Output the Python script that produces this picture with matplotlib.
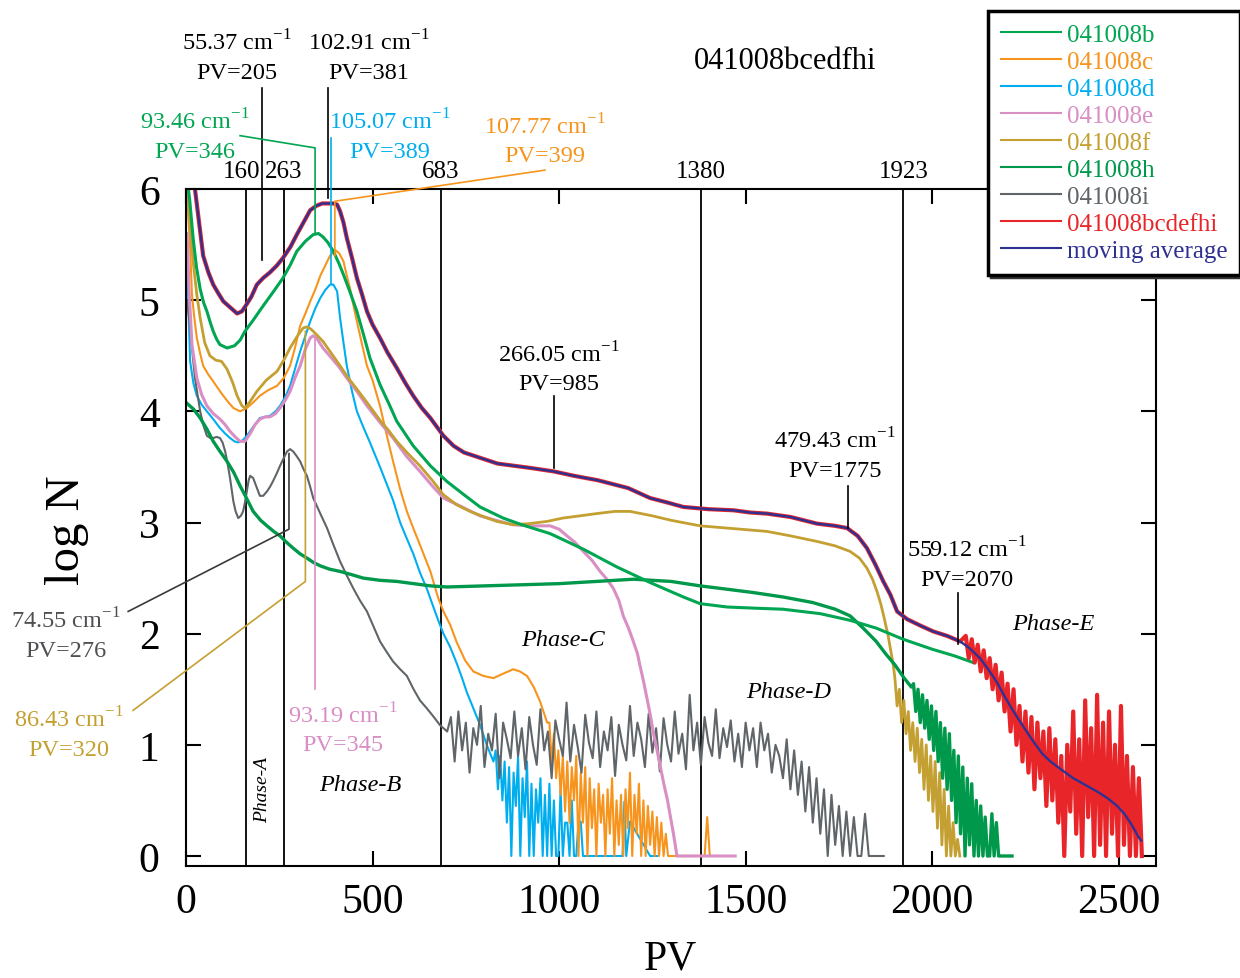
import numpy as np
import matplotlib.pyplot as plt

plt.rcParams['font.family'] = ['Liberation Serif', 'DejaVu Serif']
plt.rcParams['mathtext.fontset'] = 'custom'
plt.rcParams['mathtext.rm'] = 'Liberation Serif'

# ---- values: PV vs log N ----

# moving average of 041008bcdefhi
ma_pv = [18, 24, 35, 46, 60, 73, 87, 100, 120, 137, 150, 160, 175, 190, 207, 225, 243, 260, 280, 297,
         315, 333, 350, 365, 380, 395, 405, 413, 422, 431, 445, 458, 472, 485, 500, 520, 540, 565, 587, 609,
         632, 655, 690, 717, 745, 790, 835, 880, 925, 985, 1040, 1104, 1150, 1185, 1244, 1290, 1333, 1400, 1467, 1512,
         1557, 1620, 1691, 1740, 1772, 1800, 1825, 1848, 1869, 1888, 1906, 1933, 1970, 2003, 2040, 2075, 2100, 2128, 2150, 2174,
         2195, 2218, 2245, 2271, 2295, 2317, 2345, 2378, 2410, 2442, 2470, 2496, 2515, 2531, 2545, 2553, 2560]
ma_logn = [6.1, 6.0, 5.7, 5.4, 5.25, 5.14, 5.06, 4.99, 4.93, 4.88, 4.9, 4.95, 5.03, 5.14, 5.2, 5.25, 5.31, 5.38, 5.48, 5.59,
           5.7, 5.81, 5.85, 5.87, 5.87, 5.87, 5.86, 5.8, 5.7, 5.56, 5.38, 5.2, 5.05, 4.9, 4.78, 4.66, 4.53, 4.39, 4.26, 4.14,
           4.03, 3.94, 3.78, 3.69, 3.63, 3.58, 3.53, 3.51, 3.49, 3.46, 3.42, 3.38, 3.34, 3.31, 3.22, 3.18, 3.14, 3.12, 3.11, 3.09,
           3.08, 3.05, 2.99, 2.97, 2.95, 2.88, 2.77, 2.62, 2.47, 2.35, 2.2, 2.13, 2.07, 2.02, 1.98, 1.93, 1.87, 1.78, 1.68, 1.56,
           1.43, 1.3, 1.16, 1.03, 0.92, 0.85, 0.78, 0.7, 0.64, 0.58, 0.52, 0.45, 0.38, 0.3, 0.22, 0.17, 0.14]

# raw 041008bcdefhi tail (sampled every 8 PV from 2090)
red_tail = [1.98, 1.78, 1.95, 1.74, 1.9, 1.66, 1.85, 1.6, 1.78, 1.5,
            1.72, 1.4, 1.65, 1.3, 1.55, 1.12, 1.5, 1.0, 1.35, 0.85,
            1.3, 0.75, 1.25, 0.6, 1.2, 0.7, 1.12, 0.45, 1.15, 0.5,
            1.05, 0.3, 0.9, 0.0, 1.0, 0.4, 1.3, 0.2, 1.05, 0.0,
            1.4, 0.35, 1.15, 0.0, 1.45, 0.1, 1.2, 0.0, 1.3, 0.2,
            1.0, 0.0, 1.35, 0.1, 0.9, 0.0, 0.8, 0.0, 0.7, 0.0]

# 041008b
pv_b = [3, 10, 19, 28, 38, 47, 56, 65, 73, 82, 91, 110, 130, 145, 158, 180, 207, 235, 260, 280,
        297, 320, 341, 355, 367, 380, 395, 410, 422, 440, 458, 475, 493, 520, 545, 565, 587, 609, 632, 655,
        699, 745, 788, 850, 900, 976, 1065, 1155, 1244, 1333, 1378, 1450, 1520, 1600, 1700, 1780, 1850, 1922, 2000, 2060, 2110]
logn_b = [6.1, 5.9, 5.56, 5.3, 5.1, 4.98, 4.9, 4.8, 4.72, 4.65, 4.6, 4.57, 4.59, 4.64, 4.72, 4.82, 4.95, 5.08, 5.2, 5.32,
          5.44, 5.53, 5.59, 5.6, 5.57, 5.52, 5.44, 5.33, 5.23, 5.07, 4.9, 4.7, 4.48, 4.24, 4.06, 3.91, 3.8, 3.69, 3.6, 3.51,
          3.37, 3.25, 3.14, 3.04, 2.98, 2.9, 2.76, 2.6, 2.46, 2.33, 2.27, 2.24, 2.23, 2.22, 2.18, 2.12, 2.05, 1.95, 1.86, 1.8, 1.74]

# 041008c
pv_c = [2, 5, 10, 16, 22, 29, 38, 46, 60, 73, 87, 100, 114, 127, 145, 163, 180, 198, 220, 244,
        262, 279, 292, 306, 320, 333, 347, 360, 373, 386, 400, 411, 422, 431, 440, 449, 458, 472, 485, 500,
        520, 537, 555, 574, 592, 609, 627, 641, 655, 676, 690, 708, 726, 748, 770, 797, 824, 850, 877, 895,
        914, 932, 949, 958, 968]
logn_c = [6.0, 5.8, 5.56, 5.05, 4.85, 4.66, 4.52, 4.41, 4.33, 4.27, 4.2, 4.14, 4.08, 4.03, 4.0, 4.03, 4.08, 4.14, 4.19, 4.23,
          4.3, 4.41, 4.57, 4.77, 4.88, 4.99, 5.1, 5.22, 5.31, 5.4, 5.45, 5.42, 5.35, 5.22, 5.1, 4.95, 4.81, 4.6, 4.41, 4.28,
          4.05, 3.8, 3.55, 3.3, 3.1, 2.95, 2.8, 2.68, 2.56, 2.32, 2.2, 2.08, 1.92, 1.76, 1.66, 1.62, 1.6, 1.64, 1.68, 1.66,
          1.62, 1.52, 1.39, 1.3, 1.2]
# noisy tail, every 6 PV from 974
orange_tail = [1.2, 0.85, 1.1, 0.7, 0.95, 0.55, 0.9, 0.4, 0.85, 0.3,
               0.8, 0.5, 0.9, 0.0, 0.75, 0.3, 0.8, 0.0, 0.7, 0.25,
               0.6, 0.0, 0.65, 0.3, 0.55, 0.0, 0.6, 0.2, 0.7, 0.0,
               0.5, 0.1, 0.55, 0.0, 0.6, 0.25, 0.75, 0.0, 0.55, 0.2,
               0.65, 0.0, 0.5, 0.0, 0.45, 0.1, 0.4, 0.0, 0.35, 0.0,
               0.3, 0.0, 0.2, 0.0]
orange_end_pv = [1300, 1390, 1397, 1404, 1415]
orange_end = [0.0, 0.0, 0.35, 0.0, 0.0]

# 041008d
pv_d = [2, 6, 11, 20, 29, 42, 56, 73, 91, 105, 118, 130, 140, 152, 163, 180, 198, 212, 225, 240,
        252, 266, 279, 292, 306, 320, 333, 347, 360, 373, 386, 395, 405, 413, 422, 431, 445, 458, 475, 493,
        520, 555, 574, 590, 609, 627, 646, 662, 676, 690, 708, 726, 740, 753, 770, 788, 806, 824]
logn_d = [5.5, 5.0, 4.45, 4.25, 4.14, 4.06, 4.0, 3.93, 3.85, 3.8, 3.76, 3.73, 3.72, 3.74, 3.78, 3.86, 3.94, 3.95, 3.96, 4.0,
          4.05, 4.13, 4.23, 4.38, 4.54, 4.68, 4.81, 4.93, 5.02, 5.09, 5.14, 5.14, 5.08, 4.84, 4.62, 4.41, 4.18, 4.0, 3.86, 3.72,
          3.5, 3.2, 3.0, 2.87, 2.72, 2.55, 2.4, 2.25, 2.12, 2.0, 1.88, 1.73, 1.6, 1.47, 1.33, 1.18, 1.0, 0.85]
# noisy tail, every 6 PV from 830
blue_tail = [0.95, 0.6, 0.9, 0.5, 0.85, 0.3, 0.8, 0.0, 0.75, 0.45,
             0.9, 0.0, 0.7, 0.35, 0.85, 0.0, 0.65, 0.0, 0.6, 0.3,
             0.7, 0.0, 0.55, 0.0, 0.65, 0.0, 0.5, 0.0, 0.0, 0.6,
             0.0, 0.3, 0.3, 0.0, 0.5, 0.0, 0.0, 0.31, 0.31, 0.0]
blue_end_pv = [1070, 1170, 1175, 1180, 1190, 1244, 1263]
blue_end = [0.0, 0.0, 0.49, 0.0, 0.31, 0.0, 0.0]

# 041008e
pv_e = [3, 8, 16, 29, 42, 56, 73, 91, 105, 118, 132, 145, 158, 172, 185, 198, 212, 225, 240, 252,
        266, 279, 292, 306, 320, 333, 341, 350, 367, 390, 410, 431, 458, 485, 520, 555, 590, 627, 660, 690,
        740, 788, 830, 877, 920, 976, 1000, 1021, 1043, 1065, 1088, 1110, 1128, 1145, 1160, 1172, 1186, 1199, 1210, 1217,
        1227, 1236, 1245, 1252, 1262, 1271, 1280, 1290, 1298, 1306, 1316, 1400, 1472]
logn_e = [5.6, 5.1, 4.6, 4.3, 4.15, 4.05, 3.98, 3.93, 3.88, 3.82, 3.77, 3.73, 3.73, 3.8, 3.88, 3.93, 3.95, 3.95, 3.98, 4.03,
          4.1, 4.18, 4.3, 4.41, 4.56, 4.66, 4.68, 4.66, 4.57, 4.48, 4.4, 4.3, 4.18, 4.05, 3.9, 3.76, 3.6, 3.46, 3.33, 3.22,
          3.14, 3.06, 3.02, 2.98, 2.97, 2.97, 2.94, 2.88, 2.82, 2.74, 2.66, 2.56, 2.49, 2.41, 2.3, 2.16, 2.05, 1.93, 1.82, 1.71,
          1.56, 1.41, 1.26, 1.12, 0.96, 0.81, 0.66, 0.51, 0.36, 0.21, 0.0, 0.0, 0.0]

# 041008f
pv_f = [3, 10, 19, 29, 38, 50, 64, 80, 95, 110, 125, 137, 150, 158, 170, 190, 215, 244, 262, 279,
        297, 314, 324, 335, 350, 367, 390, 413, 435, 458, 485, 520, 545, 565, 595, 627, 660, 690, 725, 761,
        800, 833, 877, 920, 968, 1010, 1056, 1100, 1150, 1190, 1250, 1300, 1378, 1450, 1557, 1620, 1691, 1740, 1780, 1805,
        1825, 1840, 1852, 1862, 1870, 1882, 1896]
logn_f = [6.0, 5.7, 5.35, 5.05, 4.84, 4.62, 4.5, 4.46, 4.45, 4.38, 4.26, 4.14, 4.05, 4.03, 4.08, 4.18, 4.28, 4.36, 4.46, 4.57,
          4.67, 4.75, 4.76, 4.74, 4.69, 4.63, 4.52, 4.41, 4.3, 4.2, 4.08, 3.92, 3.82, 3.73, 3.62, 3.51, 3.38, 3.25, 3.16, 3.1,
          3.05, 3.01, 2.98, 2.99, 3.01, 3.04, 3.06, 3.08, 3.1, 3.1, 3.06, 3.02, 2.97, 2.95, 2.92, 2.88, 2.83, 2.79, 2.74, 2.68,
          2.59, 2.49, 2.38, 2.27, 2.16, 1.98, 1.71]
# noisy tail, every 6 PV from 1900
olive_tail = [1.6, 1.35, 1.5, 1.2, 1.4, 1.1, 1.3, 0.95, 1.2, 0.85,
              1.15, 0.75, 1.05, 0.6, 1.0, 0.5, 0.9, 0.4, 0.85, 0.25,
              0.75, 0.1, 0.6, 0.0, 0.45, 0.0, 0.3, 0.0, 0.15, 0.0]

# 041008h
pv_h = [0, 20, 38, 56, 73, 91, 110, 128, 145, 162, 180, 200, 217, 235, 252, 270, 287, 305, 324, 342,
        360, 385, 413, 445, 475, 520, 565, 610, 655, 700, 800, 900, 1000, 1100, 1200, 1300, 1378, 1450, 1520, 1600,
        1680, 1740, 1780, 1815, 1850, 1875, 1900, 1925, 1944]
logn_h = [4.08, 4.02, 3.94, 3.84, 3.73, 3.64, 3.55, 3.45, 3.33, 3.22, 3.1, 3.02, 2.97, 2.92, 2.88, 2.82, 2.77, 2.72, 2.68, 2.64,
          2.61, 2.58, 2.56, 2.53, 2.5, 2.48, 2.47, 2.45, 2.43, 2.42, 2.43, 2.44, 2.45, 2.47, 2.49, 2.47, 2.43, 2.4, 2.37, 2.33,
          2.28, 2.22, 2.16, 2.05, 1.93, 1.82, 1.72, 1.6, 1.52]
# noisy tail, every 6 PV from 1950
green_h_tail = [1.55, 1.3, 1.5, 1.2, 1.45, 1.15, 1.4, 1.05, 1.35, 0.95,
                1.3, 0.85, 1.2, 0.7, 1.15, 0.6, 1.1, 0.5, 0.95, 0.3,
                0.9, 0.2, 0.8, 0.0, 0.7, 0.1, 0.65, 0.0, 0.5, 0.0,
                0.45, 0.0, 0.35, 0.0, 0.0, 0.38, 0.0, 0.3, 0.0, 0.0,
                0.0, 0.0, 0.0, 0.0, 0.0]

# 041008i
pv_i = [2, 10, 18, 24, 31, 38, 46, 56, 65, 73, 82, 91, 98, 105, 112, 118, 123, 127, 133, 140,
        147, 153, 158, 163, 168, 172, 176, 180, 189, 198, 207, 217, 225, 233, 243, 252, 262, 271, 279, 287,
        296, 306, 315, 324, 333, 341, 360, 378, 395, 413, 430, 448, 466, 485, 502, 520, 537, 555, 574, 592,
        610, 627, 645, 662, 680, 700]
logn_i = [5.0, 4.8, 4.5, 4.3, 4.15, 4.0, 3.88, 3.78, 3.76, 3.76, 3.77, 3.76, 3.72, 3.64, 3.52, 3.4, 3.28, 3.19, 3.1, 3.04,
          3.06, 3.1, 3.18, 3.28, 3.38, 3.42, 3.41, 3.4, 3.32, 3.24, 3.24, 3.28, 3.32, 3.37, 3.44, 3.51, 3.58, 3.64, 3.66, 3.64,
          3.6, 3.55, 3.48, 3.42, 3.32, 3.22, 3.08, 2.95, 2.8, 2.65, 2.53, 2.41, 2.3, 2.2, 2.07, 1.93, 1.84, 1.75, 1.68, 1.62,
          1.5, 1.4, 1.33, 1.26, 1.18, 1.12]
# noisy tail, every 10 PV from 710
gray_tail = [1.25, 0.85, 1.3, 0.95, 1.2, 0.75, 1.15, 1.0, 1.35, 0.8,
             1.1, 0.95, 1.28, 0.7, 1.2, 1.05, 0.88, 1.3, 0.9, 1.15,
             0.78, 1.25, 1.0, 0.82, 1.32, 0.95, 1.12, 0.7, 1.22, 1.05,
             0.9, 1.38, 0.85, 1.18, 0.98, 0.75, 1.27, 1.02, 0.88, 1.3,
             0.8, 1.12, 0.95, 1.25, 0.72, 1.18, 1.0, 0.86, 1.35, 0.9,
             1.2, 1.05, 0.8, 1.28, 0.93, 1.15, 0.76, 1.24, 1.0, 0.85,
             1.3, 0.92, 1.1, 0.78, 1.45, 0.95, 1.2, 0.82, 1.25, 1.02,
             0.9, 1.32, 0.88, 1.15, 0.98, 1.22, 0.85, 1.1, 0.8, 1.2,
             0.95, 1.15, 0.8, 1.2, 0.95, 1.1, 0.75, 1.0, 0.9, 0.7,
             1.05, 0.6, 0.95, 0.55, 0.85, 0.4, 0.8, 0.3, 0.7, 0.2,
             0.6, 0.0, 0.55, 0.1, 0.45, 0.0, 0.4, 0.0, 0.35, 0.0,
             0.0, 0.38, 0.0, 0.0, 0.0, 0.0, 0.0]

ref_pv = [160, 263, 683, 1380, 1923]

colors = {'b': '#00a651', 'c': '#f7941d', 'd': '#00aeef', 'e': '#d98ec4', 'f': '#c4a032',
          'h': '#00984a', 'i': '#5f6569', 'red': '#e8262a', 'ma': '#2e3192'}


def grid(start, step, vals):
    # sampling positions of the noisy tails
    return start + step * np.arange(len(vals))


fig = plt.figure(figsize=(12.4, 9.79), dpi=100)
ax = fig.add_axes([0.15, 0.1144, 0.7823, 0.6915])

for v in ref_pv:
    ax.axvline(v, color='black', lw=1.3, zorder=1)

lw = 1.5
l_d, = ax.plot(np.concatenate([pv_d, grid(830, 6, blue_tail), blue_end_pv]),
               np.concatenate([logn_d, blue_tail, blue_end]), color=colors['d'], lw=lw, label='041008d')
l_c, = ax.plot(np.concatenate([pv_c, grid(974, 6, orange_tail), orange_end_pv]),
               np.concatenate([logn_c, orange_tail, orange_end]), color=colors['c'], lw=lw, label='041008c')
l_i, = ax.plot(np.concatenate([pv_i, grid(710, 10, gray_tail)]),
               np.concatenate([logn_i, gray_tail]), color=colors['i'], lw=lw, label='041008i')
l_e, = ax.plot(pv_e, logn_e, color=colors['e'], lw=2.2, label='041008e')
l_f, = ax.plot(np.concatenate([pv_f, grid(1900, 6, olive_tail)]),
               np.concatenate([logn_f, olive_tail]), color=colors['f'], lw=2.0, label='041008f')
l_h, = ax.plot(np.concatenate([pv_h, grid(1950, 6, green_h_tail)]),
               np.concatenate([logn_h, green_h_tail]), color=colors['h'], lw=2.4, label='041008h')
l_b, = ax.plot(pv_b, logn_b, color=colors['b'], lw=2.2, label='041008b')

ma_pv_a = np.array(ma_pv)
ma_logn_a = np.array(ma_logn)
head = ma_pv_a < 2090
l_red, = ax.plot(np.concatenate([ma_pv_a[head], grid(2090, 8, red_tail)]),
                 np.concatenate([ma_logn_a[head], red_tail]), color=colors['red'], lw=3.0,
                 label='041008bcdefhi')
l_ma, = ax.plot(ma_pv, ma_logn, color=colors['ma'], lw=1.7, label='moving average')

ax.set_xlim(0, 2600)
ax.set_ylim(-0.09, 6.0)
ax.set_xticks([0, 500, 1000, 1500, 2000, 2500])
ax.set_yticks([0, 1, 2, 3, 4, 5, 6])
ax.tick_params(direction='in', length=11, width=1.5, top=True, right=True, labelsize=30)
ax.tick_params(axis='x', pad=12)
ax.tick_params(axis='y', pad=19)
for s in ax.spines.values():
    s.set_linewidth(1.5)

ax.set_xlabel('PV', fontsize=30)
ax.xaxis.set_label_coords(0.499, -0.152)
ax.xaxis.label.set_va('baseline')
ax.set_ylabel('log N', fontsize=35)
ax.yaxis.set_label_coords(-0.1, 0.498)

# reference line labels above the frame
ref_text_pv = [148, 263, 683, 1380, 1923]
for v, t in zip(ref_text_pv, ref_pv):
    ax.text(v, 6.06, str(t), ha='center', va='bottom', fontsize=18, clip_on=False)

ax.text(1605, 7.16, '041008bcedfhi', ha='center', va='center', fontsize=22, clip_on=False)

sup = r' cm$^{\mathregular{-1}}$'
notes = [
    (137, 7.32, '55.37', 'PV=205', 'black'),
    (490, 7.32, '102.91', 'PV=381', 'black'),
    (24, 6.61, '93.46', 'PV=346', colors['b']),
    (547, 6.61, '105.07', 'PV=389', colors['d']),
    (962, 6.57, '107.77', 'PV=399', colors['c']),
    (-322, 2.12, '74.55', 'PV=276', '#4d4f52'),
    (-314, 1.23, '86.43', 'PV=320', colors['f']),
    (421, 1.27, '93.19', 'PV=345', colors['e']),
    (1000, 4.52, '266.05', 'PV=985', 'black'),
    (1740, 3.74, '479.43', 'PV=1775', 'black'),
    (2092, 2.76, '559.12', 'PV=2070', 'black'),
]
for x, y, val, pv, col in notes:
    ax.text(x, y, val + sup, color=col, ha='center', va='center', fontsize=17.5, clip_on=False)
    ax.text(x, y - 0.27, pv, color=col, ha='center', va='center', fontsize=17.5, clip_on=False)

# leader lines
leaders = [
    ([205, 205], [6.91, 5.36], 'black'),
    ([381, 381], [6.91, 5.92], 'black'),
    ([145, 346, 346], [6.48, 6.37, 5.6], colors['b']),
    ([389, 389], [6.46, 5.15], colors['d']),
    ([962, 399, 399], [6.17, 5.89, 5.4], colors['c']),
    ([-155, 276, 276], [2.2, 2.94, 3.62], '#3a3a3a'),
    ([-142, 320, 320], [1.31, 2.47, 4.72], colors['f']),
    ([345, 345], [1.5, 4.66], colors['e']),
    ([985, 985], [4.14, 3.49], 'black'),
    ([1775, 1775], [3.33, 2.95], 'black'),
    ([2070, 2070], [2.37, 1.91], 'black'),
]
for xs, ys, col in leaders:
    ax.plot(xs, ys, color=col, lw=1.2, clip_on=False, zorder=5)

ax.text(466, 0.64, 'Phase-B', style='italic', fontsize=17.5, ha='center', va='center')
ax.text(1010, 1.95, 'Phase-C', style='italic', fontsize=17.5, ha='center', va='center')
ax.text(1616, 1.48, 'Phase-D', style='italic', fontsize=17.5, ha='center', va='center')
ax.text(2324, 2.09, 'Phase-E', style='italic', fontsize=17.5, ha='center', va='center')
ax.text(206, 0.6, 'Phase-A', style='italic', fontsize=14, rotation=90, ha='center', va='center')

handles = [l_b, l_c, l_d, l_e, l_f, l_h, l_i, l_red, l_ma]
leg = fig.legend(handles=handles, labels=[h.get_label() for h in handles],
                 loc='upper left', bbox_to_anchor=(988 / 1240, 1 - 12 / 979),
                 bbox_transform=fig.transFigure, fontsize=18, frameon=True, fancybox=False,
                 edgecolor='black', framealpha=1, borderpad=0.5, labelspacing=0.18,
                 handlelength=2.4, handletextpad=0.25, borderaxespad=0,
                 shadow={'color': '0.2', 'alpha': 1})
leg.get_frame().set_linewidth(2.5)
for txt, h in zip(leg.get_texts(), handles):
    txt.set_color(h.get_color())
for lh in leg.get_lines():
    lh.set_linewidth(1.5)

fig.savefig('out.png', dpi=100)
